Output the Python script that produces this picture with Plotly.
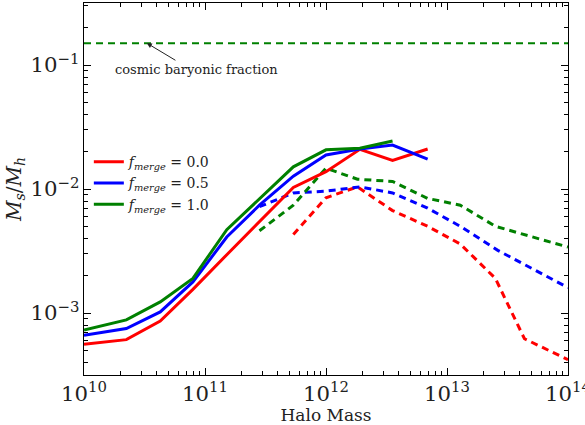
import plotly.graph_objects as go

# Halo mass grid (log10 M_halo) for each curve
mass_solid = [10.0, 10.35, 10.63, 10.9, 11.18, 11.45, 11.73, 12.0, 12.28, 12.55, 12.84]
mass_solid_g = [10.0, 10.35, 10.63, 10.9, 11.18, 11.45, 11.73, 12.0, 12.28, 12.55]

# Stellar-to-halo mass ratio, solid curves
red_solid = [5.6e-4, 6.1e-4, 8.6e-4, 1.55e-3, 2.95e-3, 5.5e-3, 1.03e-2, 1.38e-2, 2.09e-2, 1.7e-2, 2.1e-2]
blue_solid = [6.6e-4, 7.5e-4, 1.02e-3, 1.78e-3, 4.1e-3, 7.4e-3, 1.27e-2, 1.88e-2, 2.1e-2, 2.26e-2, 1.74e-2]
green_solid = [7.3e-4, 8.8e-4, 1.23e-3, 1.9e-3, 4.7e-3, 8.4e-3, 1.51e-2, 2.07e-2, 2.13e-2, 2.44e-2]

# Dashed curves
mass_red_dash = [11.73, 12.0, 12.26, 12.55, 12.84, 13.11, 13.40, 13.64, 14.0]
red_dash = [4.3e-3, 8.5e-3, 1.04e-2, 6.7e-3, 5.0e-3, 3.6e-3, 1.9e-3, 6.2e-4, 4.2e-4]
mass_blue_dash = [11.45, 11.73, 12.0, 12.28, 12.55, 12.84, 13.11, 13.42, 14.0]
blue_dash = [7.2e-3, 9.3e-3, 9.6e-3, 1.04e-2, 9.3e-3, 7.0e-3, 5.0e-3, 3.2e-3, 1.6e-3]
mass_green_dash = [11.45, 11.73, 12.0, 12.26, 12.55, 12.84, 13.11, 13.40, 14.0]
green_dash = [4.6e-3, 7.4e-3, 1.47e-2, 1.2e-2, 1.15e-2, 8.4e-3, 7.4e-3, 5.0e-3, 3.4e-3]

baryon_fraction = 0.15
legend_labels = ["0.0", "0.5", "1.0"]

RED, BLUE, GREEN = "#ff0000", "#0000ff", "#008000"
FONT = "DejaVu Serif, Liberation Serif, serif"
DASH = "7px,5px"


def mass(logs):
    return [10 ** v for v in logs]


fig = go.Figure()

# cosmic baryon fraction reference line
fig.add_trace(go.Scatter(x=[1e10, 1e14], y=[baryon_fraction, baryon_fraction], mode="lines",
                         line=dict(color=GREEN, width=2, dash=DASH), showlegend=False,
                         hoverinfo="skip"))

for xs, ys, col in [(mass_red_dash, red_dash, RED), (mass_blue_dash, blue_dash, BLUE),
                    (mass_green_dash, green_dash, GREEN)]:
    fig.add_trace(go.Scatter(x=mass(xs), y=ys, mode="lines", showlegend=False,
                             line=dict(color=col, width=3, dash=DASH)))

for xs, ys, col, lab in [(mass_solid, red_solid, RED, legend_labels[0]),
                         (mass_solid, blue_solid, BLUE, legend_labels[1]),
                         (mass_solid_g, green_solid, GREEN, legend_labels[2])]:
    fig.add_trace(go.Scatter(x=mass(xs), y=ys, mode="lines",
                             name="<i>f</i><sub><i>merge</i></sub> = " + lab,
                             line=dict(color=col, width=3)))

fig.add_annotation(x=10.52, y=-0.824, xref="x", yref="y", text="", showarrow=True,
                   ax=30, ay=18, arrowhead=2, arrowsize=1, arrowwidth=1, arrowcolor="#222")
fig.add_annotation(x=10.24, y=-1.04, xref="x", yref="y", text="cosmic baryonic fraction",
                   showarrow=False, xanchor="left", yanchor="middle",
                   font=dict(family=FONT, size=13, color="#222"))

axis_common = dict(type="log", dtick=1, exponentformat="power", showgrid=False,
                   showline=True, linecolor="black", linewidth=1.2, mirror="allticks",
                   ticks="inside", ticklen=7, tickwidth=1, tickcolor="black",
                   ticklabeloverflow="allow", automargin=False,
                   minor=dict(ticks="inside", ticklen=3.5, tickcolor="black", showgrid=False),
                   tickfont=dict(family=FONT, size=17, color="#222"), zeroline=False)

fig.update_xaxes(range=[10, 14],
                 title=dict(text="Halo Mass", font=dict(family=FONT, size=17, color="#222"),
                            standoff=4), **axis_common)
fig.update_yaxes(range=[-3.5, -0.5],
                 title=dict(text="<i>M</i><sub><i>s</i></sub>/<i>M</i><sub><i>h</i></sub>",
                            font=dict(family=FONT, size=20, color="#222"), standoff=3),
                 **axis_common)

fig.update_layout(width=585, height=425, margin=dict(l=84, r=17, t=3, b=50),
                  plot_bgcolor="white", paper_bgcolor="white",
                  legend=dict(x=0.01, y=0.615, xanchor="left", yanchor="top",
                              bgcolor="rgba(0,0,0,0)", itemwidth=30, tracegroupgap=0,
                              font=dict(family=FONT, size=14, color="#222")))

fig.write_html("out.html")
